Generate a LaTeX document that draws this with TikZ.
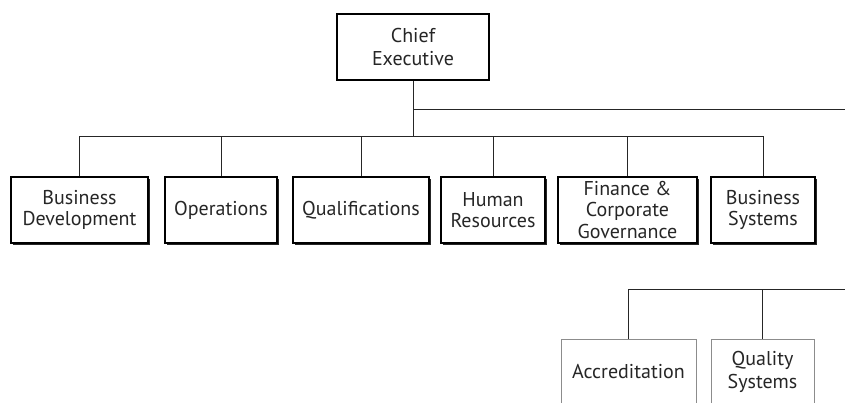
\documentclass[tikz,border=0pt]{standalone}
\usepackage{fontspec}
\setmainfont{PT Sans}
\usepackage{tikz}
\usetikzlibrary{positioning,shadows}

\begin{document}
\begin{tikzpicture}[x=1pt,y=-1pt,
                    unit/.style={rectangle,draw=black,line width=1.1pt,fill=white,align=center,
                                 text=black!85,font=\fontsize{20}{21.5}\selectfont,
                                 minimum height=66pt,inner sep=1pt,
                                 drop shadow={shadow xshift=1.8pt,shadow yshift=-1.8pt,fill=black!85,opacity=1}},
                    chief/.style={rectangle,draw=black,line width=2.6pt,fill=white,align=center,
                                 text=black!85,font=\fontsize{20}{23}\selectfont,
                                 minimum width=152pt,minimum height=66pt},
                    subunit/.style={rectangle,draw=black!45,line width=0.8pt,fill=white,align=center,
                                 text=black!85,font=\fontsize{20}{23}\selectfont,
                                 minimum height=66pt,inner sep=1pt},
                    link/.style={draw=black!85,line width=0.9pt}
                ]
    \useasboundingbox (0,0) rectangle (845,403);
    \clip (0,0) rectangle (845,403);

    % top
    \node[chief] (ce) at (413,47) {Chief\\Executive};

    % departments
    \foreach \name/\x/\w/\txt in {busdev/79.5/137/{Business\\Development},
                                  ops/221/112/{Operations},
                                  qual/361/136/{Qualifications},
                                  hr/493/104/{Human\\Resources},
                                  fin/627.5/139/{Finance \&\\Corporate\\Governance},
                                  bsys/763/104/{Business\\Systems}}
        {
        \node[unit,minimum width=\w pt] (\name) at (\x,210) {\txt};
    }

    % quality directorate
    \node[subunit,minimum width=135pt] (accr) at (628.5,372) {Accreditation};
    \node[subunit,minimum width=103pt] (qsys) at (762.5,372) {Quality\\Systems};

    \coordinate (bus) at (0,136);
    \coordinate (edgeA) at (845,109);
    \coordinate (edgeB) at (845,289);

    \draw[link] (ce.south) -- (ce.south |- bus);
    \draw[link] (busdev.north) -- (busdev.north |- bus) -- (bsys.north |- bus) -- (bsys.north);
    \foreach \name in {ops,qual,hr,fin}
        \draw[link] (\name.north) -- (\name.north |- bus);
    \draw[link] (ce.south |- edgeA) -- (edgeA);
    \draw[link] (accr.north) |- (edgeB);
    \draw[link] (qsys.north) -- (qsys.north |- edgeB);
\end{tikzpicture}
\end{document}
